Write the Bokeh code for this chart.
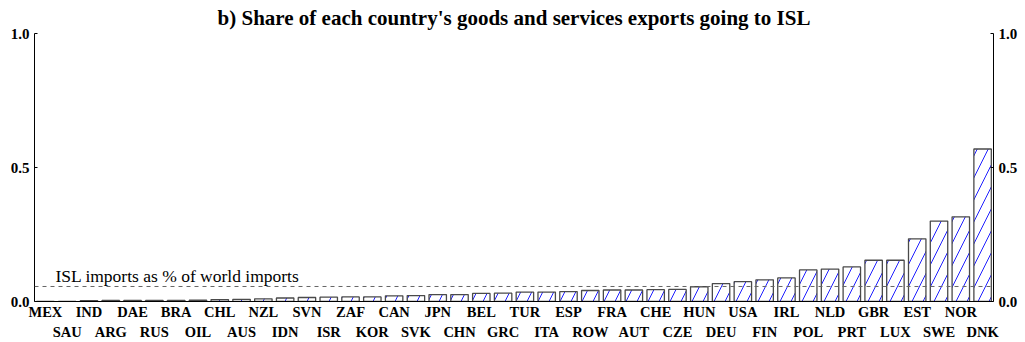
from bokeh.plotting import figure
from bokeh.models import (Range1d, LinearAxis, FixedTicker, Span,
                          Label, ColumnDataSource, NumeralTickFormatter)
from bokeh.embed import file_html
from bokeh.resources import INLINE

countries = ["MEX", "SAU", "IND", "ARG", "DAE", "RUS", "BRA", "OIL", "CHL", "AUS", "NZL",
             "IDN", "SVN", "ISR", "ZAF", "KOR", "CAN", "SVK", "JPN", "CHN", "BEL", "GRC",
             "TUR", "ITA", "ESP", "ROW", "FRA", "AUT", "CHE", "CZE", "HUN", "DEU", "USA",
             "FIN", "IRL", "POL", "NLD", "PRT", "GBR", "LUX", "EST", "SWE", "NOR", "DNK"]
shares = [0.0005, 0.0008, 0.003, 0.004, 0.004, 0.004, 0.004, 0.005, 0.007, 0.008, 0.010,
          0.013, 0.015, 0.016, 0.017, 0.017, 0.021, 0.022, 0.026, 0.026, 0.030, 0.031,
          0.035, 0.035, 0.037, 0.041, 0.043, 0.043, 0.044, 0.045, 0.055, 0.067, 0.074,
          0.081, 0.088, 0.118, 0.121, 0.129, 0.154, 0.154, 0.234, 0.300, 0.316, 0.569]
isl_world_share = 0.056
y_ticks = [0.0, 0.5, 1.0]
title_text = "b) Share of each country's goods and services exports going to ISL"
ref_label = "ISL imports as % of world imports"

SERIF = "Liberation Serif"

n = len(countries)
pos = [i + 0.5 for i in range(n)]          # category slot centres
src = ColumnDataSource(dict(x=pos, top=shares, name=countries))

p = figure(width=1025, height=342, x_range=Range1d(0, n),
           y_range=Range1d(0, 1), output_backend="svg", toolbar_location=None,
           x_axis_location=None,
           min_border_left=34, min_border_right=32, min_border_top=33, min_border_bottom=40)
p.title.text = title_text
p.title.align = "center"
p.title.text_font = SERIF
p.title.text_font_size = "21px"
p.title.text_font_style = "bold"
p.title.text_color = "black"
p.title.offset = 0
p.title.standoff = 7
p.outline_line_color = None
p.grid.visible = False
p.background_fill_color = "white"

p.vbar(x="x", top="top", width=0.8, source=src, fill_color="white",
       line_color="#4a4a4a", line_width=1.3,
       hatch_pattern="/", hatch_color="#1f1fff", hatch_scale=22, hatch_weight=1)

# two rows of category labels, alternating
for k, line_col, sto in ((0, "black", 2), (1, None, 1)):
    ticks = [pos[i] for i in range(n) if i % 2 == k]
    ax = LinearAxis(ticker=FixedTicker(ticks=ticks))
    ax.major_label_overrides = {pos[i]: countries[i] for i in range(n) if i % 2 == k}
    ax.major_label_text_font = SERIF
    ax.major_label_text_font_style = "bold"
    ax.major_label_text_font_size = "14.5px"
    ax.major_label_text_color = "black"
    ax.major_label_standoff = sto
    ax.major_tick_line_color = None
    ax.minor_tick_line_color = None
    ax.major_tick_in = 0
    ax.major_tick_out = 0
    ax.axis_line_color = line_col
    p.add_layout(ax, "below")

def style_y(ax):
    ax.ticker = FixedTicker(ticks=y_ticks)
    ax.formatter = NumeralTickFormatter(format="0.0")
    ax.major_label_text_font = SERIF
    ax.major_label_text_font_style = "bold"
    ax.major_label_text_font_size = "15px"
    ax.major_label_text_color = "black"
    ax.major_tick_in = 3
    ax.major_tick_out = 0
    ax.minor_tick_line_color = None
    ax.major_label_standoff = 5
    ax.axis_line_color = "black"

style_y(p.yaxis[0])
ra = LinearAxis()
style_y(ra)
p.add_layout(ra, "right")

p.add_layout(Span(location=isl_world_share, dimension="width", line_color="#666666",
                  line_dash="4 4", line_width=1))
p.add_layout(Label(x=0.96, y=isl_world_share, y_offset=10, text=ref_label,
                   text_font=SERIF, text_font_size="17.5px", text_color="black",
                   text_baseline="alphabetic"))

open("out.html", "w").write(file_html(p, INLINE))
